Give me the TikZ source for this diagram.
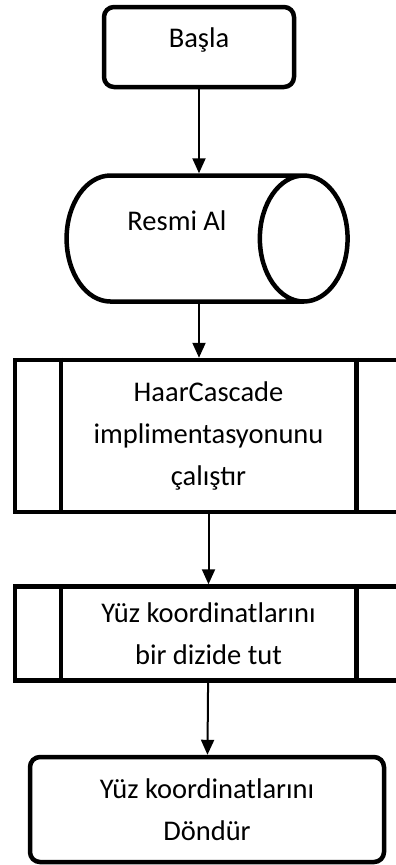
\documentclass[tikz,border=0pt]{standalone}
\usepackage{fontspec}
\setmainfont{Carlito}
\usetikzlibrary{arrows.meta,positioning,shapes.geometric}

\begin{document}
\begin{tikzpicture}[x=1pt,y=1pt]
            \tikzstyle{block} = [draw, line width=4.5pt, align=flush center, font=\fontsize{28.5}{42}\selectfont]
            \tikzstyle{term} = [block, rectangle, rounded corners=10pt]
            \tikzstyle{predef} = [block, rectangle, minimum width=387pt, text width=280pt]
            \tikzstyle{arrow} = [-{Triangle[length=15pt,width=13pt]}, line width=2pt]

            \useasboundingbox (0,0) rectangle (396,-865);

            \node [term, minimum width=190pt, minimum height=80pt, text height=20pt, text depth=20pt] (basla) at (199,-47) {Başla};
            \node [block, cylinder, aspect=1.4, minimum width=126pt, minimum height=281pt, text height=20pt, text depth=36pt, below = 84pt of basla, xshift=-22pt] (resmi) {Resmi Al};
            \node [predef, minimum height=152pt, below = 54pt of resmi, xshift=31.5pt] (haar) {HaarCascade\\implimentasyonunu\\çalıştır};
            \node [predef, minimum height=94pt, below = 70pt of haar] (dizi) {Yüz koordinatlarını\\bir dizide tut};
            \node [term, minimum width=354pt, minimum height=105pt, below = 72pt of dizi, xshift=-1.5pt] (donder) {Yüz koordinatlarını\\Döndür};
            \foreach \n in {haar,dizi} {
                \draw [line width=4.5pt] ([xshift=48pt]\n.north west) -- ([xshift=48pt]\n.south west);
                \draw [line width=4.5pt] ([xshift=-48pt]\n.north east) -- ([xshift=-48pt]\n.south east);
            }
            \draw [arrow] (basla) -- (basla |- resmi.north);
            \draw [arrow] (resmi.south -| basla) -- (haar.north -| basla);
            \draw [arrow] (haar) -- (dizi);
            \draw [arrow] (dizi) -- (donder);
\end{tikzpicture}
\end{document}
